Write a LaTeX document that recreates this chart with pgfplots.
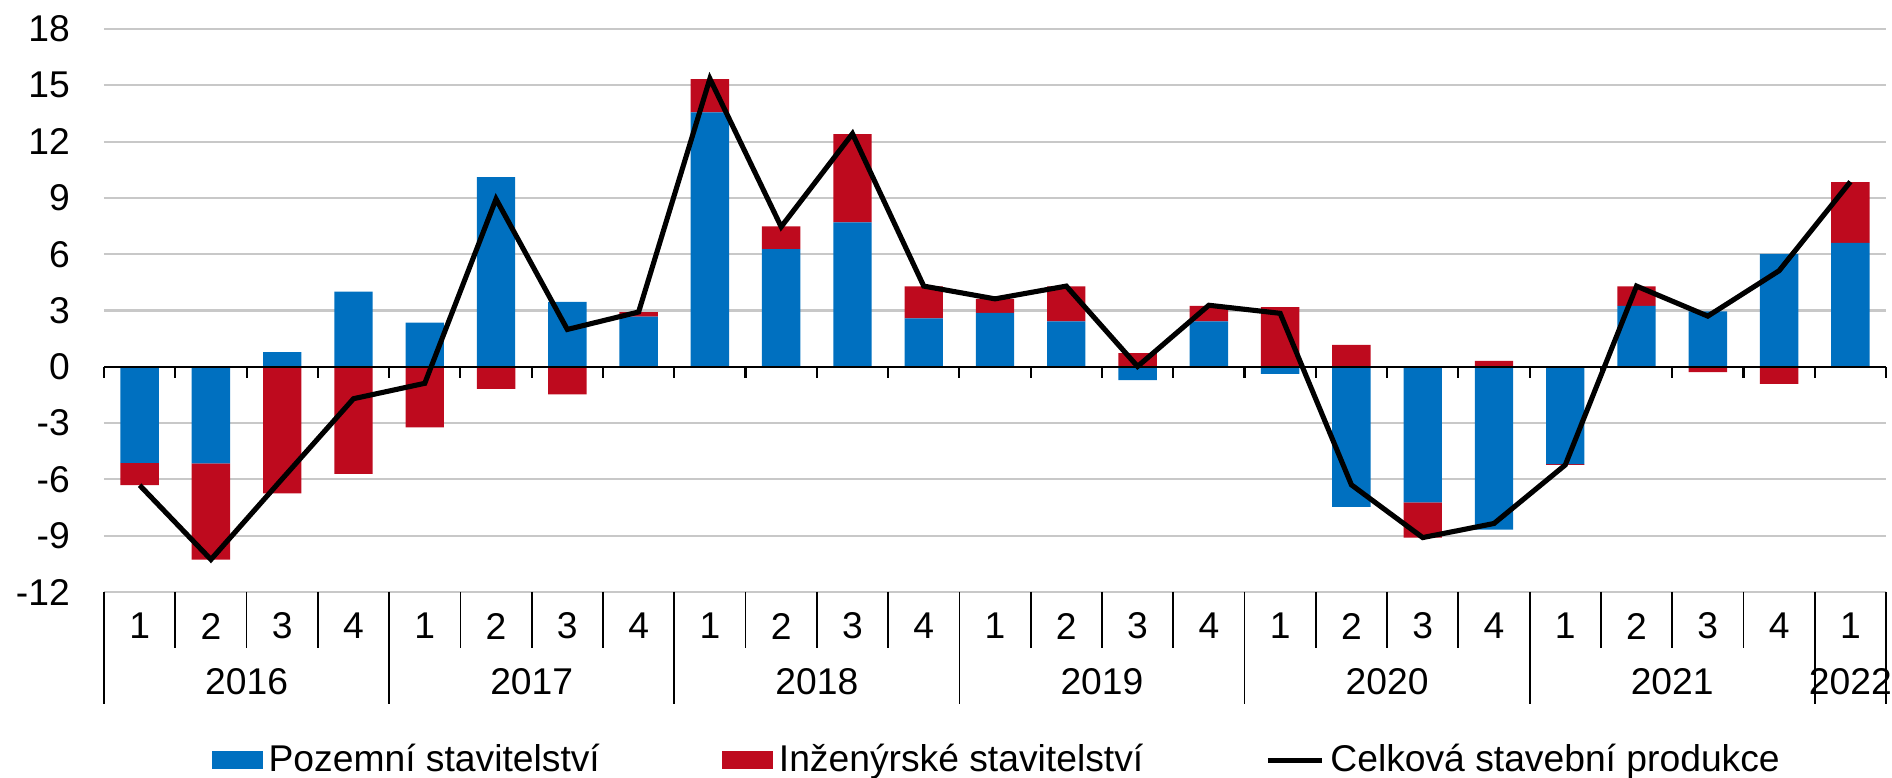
\documentclass[border=0pt]{standalone}
\usepackage{pgfplots}
\pgfplotsset{compat=1.18}
\usepackage{fontspec}
\setmainfont{Liberation Sans}

\definecolor{pozblue}{RGB}{0,112,192}
\definecolor{ingred}{RGB}{190,10,30}
\definecolor{gridgray}{RGB}{200,200,200}
\newcommand\lf{\fontsize{10.6}{12.6}\selectfont}

% bp/rp = positive parts, bn/rn = negative parts, tot = total
\pgfplotstableread{
x  bp     rp    bn     rn     tot
1  0      0     -5.12  -1.19  -6.31
2  0      0     -5.15  -5.12  -10.27
3  0.78   0     0      -6.75  -5.97
4  4.00   0     0      -5.70  -1.70
5  2.35   0     0      -3.23  -0.88
6  10.11  0     0      -1.17  8.94
7  3.46   0     0      -1.47  1.99
8  2.67   0.25  0      0      2.92
9  13.56  1.77  0      0      15.35
10 6.27   1.21  0      0      7.46
11 7.69   4.71  0      0      12.42
12 2.58   1.70  0      0      4.30
13 2.88   0.74  0      0      3.62
14 2.42   1.86  0      0      4.30
15 0      0.73  -0.71  0      0.02
16 2.42   0.83  0      0      3.28
17 0      3.18  -0.38  0      2.85
18 0      1.17  -7.46  0      -6.29
19 0      0     -7.23  -1.87  -9.10
20 0      0.32  -8.67  0      -8.35
21 0      0     -5.19  -0.04  -5.23
22 3.25   1.03  0      0      4.30
23 2.95   0     0      -0.28  2.70
24 6.02   0     0      -0.91  5.12
25 6.61   3.23  0      0      9.86
}\data

\pgfplotsset{
  frame/.style={
    at={(10.4mm,18.5mm)}, anchor=south west,
    scale only axis, width=178.2mm, height=56.3mm,
    xmin=0.5, xmax=25.5, ymin=-12, ymax=18,
    bar width=3.84mm,
  },
  barleg/.style={legend image code/.code={\fill[##1] (0mm,-0.9mm) rectangle (5.1mm,0.9mm);}},
  lineleg/.style={legend image code/.code={\draw[##1] (0mm,0mm) -- (5.4mm,0mm);}},
}

\begin{document}
\begin{tikzpicture}
% axis with grid, labels and positive stacks
\begin{axis}[
  frame,
  ybar stacked,
  axis line style={draw=none},
  major tick length=0,
  ytick={-12,-9,...,18},
  yticklabels={-12,-9,-6,-3,0,3,6,9,12,15,18},
  yticklabel style={font=\lf, anchor=east, inner sep=0pt, xshift=-3.35mm},
  xtick={1,...,25},
  xticklabels={1,2,3,4,1,2,3,4,1,2,3,4,1,2,3,4,1,2,3,4,1,2,3,4,1},
  xticklabel style={font=\lf, anchor=center, inner sep=0pt, yshift=-3.4mm},
  ymajorgrids,
  grid style={gridgray, line width=0.6pt},
]
\addplot[fill=pozblue, draw=none] table[x=x, y=bp]{\data};
\addplot[fill=ingred, draw=none] table[x=x, y=rp]{\data};
\end{axis}

% negative stacks
\begin{axis}[frame, ybar stacked, hide axis]
\addplot[fill=pozblue, draw=none] table[x=x, y=bn]{\data};
\addplot[fill=ingred, draw=none] table[x=x, y=rn]{\data};
\end{axis}

% total line, zero axis, category separators, legend
\begin{axis}[
  frame, hide axis, clip=false,
  legend columns=3,
  legend style={
    at={(axis description cs:0.06,-0.299)}, anchor=west,
    draw=none, fill=none, inner sep=0pt, font=\lf,
    nodes={inner sep=0pt},
    /tikz/every odd column/.append style={column sep=0.6mm},
    /tikz/every even column/.append style={column sep=12.2mm},
  },
]
\draw[black, line width=0.6pt] (axis cs:0.5,0) -- (axis cs:25.5,0);
\pgfplotsinvokeforeach{0.5,1.5,...,25.5}{
  \draw[black, line width=0.6pt] (axis cs:#1,0) -- ([yshift=-1.1mm]axis cs:#1,0);
  \draw[black, line width=0.5pt] (axis cs:#1,-12) -- ([yshift=-5.6mm]axis cs:#1,-12);
}
\pgfplotsinvokeforeach{0.5,4.5,8.5,12.5,16.5,20.5,24.5,25.5}{
  \draw[black, line width=0.5pt] (axis cs:#1,-12) -- ([yshift=-11.2mm]axis cs:#1,-12);
}
\node[font=\lf, inner sep=0pt] at ([yshift=-8.95mm]axis cs:2.5,-12) {2016};
\node[font=\lf, inner sep=0pt] at ([yshift=-8.95mm]axis cs:6.5,-12) {2017};
\node[font=\lf, inner sep=0pt] at ([yshift=-8.95mm]axis cs:10.5,-12) {2018};
\node[font=\lf, inner sep=0pt] at ([yshift=-8.95mm]axis cs:14.5,-12) {2019};
\node[font=\lf, inner sep=0pt] at ([yshift=-8.95mm]axis cs:18.5,-12) {2020};
\node[font=\lf, inner sep=0pt] at ([yshift=-8.95mm]axis cs:22.5,-12) {2021};
\node[font=\lf, inner sep=0pt] at ([yshift=-8.95mm]axis cs:25,-12) {2022};

\addlegendimage{fill=pozblue, draw=none, barleg}
\addlegendentry{Pozemní stavitelství}
\addlegendimage{fill=ingred, draw=none, barleg}
\addlegendentry{Inženýrské stavitelství}
\addplot[black, line width=1.45pt, mark=none, lineleg] table[x=x, y=tot]{\data};
\addlegendentry{Celková stavební produkce}
\end{axis}

\pgfresetboundingbox
\path[use as bounding box] (0,0) rectangle (189.2mm,77.7mm);
\end{tikzpicture}
\end{document}
